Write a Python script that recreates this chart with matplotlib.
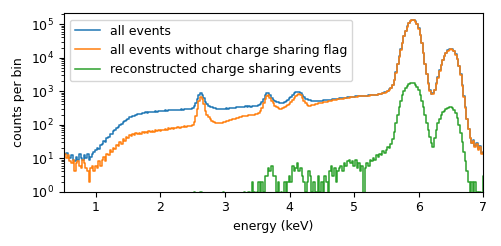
import numpy as np
import matplotlib
matplotlib.use("Agg")
import matplotlib.pyplot as plt

# bin centres (keV), 0.025 keV wide bins, 0.5 ... 7.0
energy_centres = np.round(np.arange(0.5, 7.0001, 0.025), 4)

all_events = [
    # 0.500 - 0.975
    15, 13, 14, 11, 10, 12, 9, 8, 11, 9, 13, 10, 9, 12, 10, 13, 9, 11, 13, 15,
    # 1.000 - 1.475
    17, 20, 19, 25, 26, 32, 31, 40, 42, 52, 54, 65, 68, 82, 85, 100, 106, 122, 125, 142,
    # 1.500 - 1.975
    148, 165, 166, 185, 186, 200, 202, 214, 211, 225, 220, 232, 228, 238, 236, 244, 240, 250, 246, 252,
    # 2.000 - 2.475
    255, 262, 256, 266, 260, 268, 264, 273, 268, 278, 272, 281, 276, 285, 280, 288, 283, 290, 292, 298,
    # 2.500 - 2.975
    320, 360, 450, 600, 780, 860, 780, 620, 480, 410, 370, 345, 330, 315, 305, 300, 295, 295, 298, 300,
    # 3.000 - 3.475
    298, 305, 300, 312, 306, 322, 318, 335, 328, 345, 336, 345, 338, 350, 342, 354, 347, 358, 352, 360,
    # 3.500 - 3.975
    360, 375, 410, 480, 600, 760, 880, 870, 760, 640, 560, 510, 480, 460, 445, 440, 445, 460, 490, 530,
    # 4.000 - 4.475
    610, 680, 760, 850, 920, 960, 950, 880, 760, 660, 600, 565, 540, 525, 515, 510, 508, 510, 512, 515,
    # 4.500 - 4.975
    520, 525, 530, 535, 545, 550, 560, 570, 580, 590, 600, 607, 615, 622, 630, 640, 650, 660, 670, 680,
    # 5.000 - 5.475
    690, 695, 700, 705, 710, 715, 720, 728, 735, 742, 750, 760, 770, 780, 790, 805, 820, 840, 870, 910,
    # 5.500 - 5.975
    970, 1040, 1120, 1220, 1500, 2200, 3600, 6500, 11000, 17500, 28000, 44000, 63000, 85000, 108000,
    124000, 133000, 130000, 120000, 100000,
    # 6.000 - 6.475
    75000, 48000, 28000, 14000, 6500, 3200, 1700, 1050, 820, 850, 1100, 1700, 2600, 4200, 6200, 8600,
    11500, 14000, 16500, 17800,
    # 6.500 - 6.975
    18300, 17500, 15500, 12500, 9000, 5800, 3200, 1500, 700, 330, 150, 75, 41, 29, 34, 23, 28, 19, 23, 14,
    # 7.000
    15,
]

no_cs_flag = [
    # 0.500 - 0.975
    1, 13, 10, 12, 8, 7, 9, 4, 7, 8, 6, 5, 9, 7, 5, 4, 2, 5, 6, 4,
    # 1.000 - 1.475
    6, 5, 8, 6, 9, 11, 8, 13, 12, 17, 15, 20, 19, 25, 23, 30, 27, 36, 33, 43,
    # 1.500 - 1.975
    41, 49, 45, 53, 48, 56, 51, 58, 53, 60, 55, 61, 58, 63, 60, 65, 62, 67, 64, 68,
    # 2.000 - 2.475
    66, 71, 68, 74, 71, 77, 73, 79, 75, 81, 78, 84, 80, 86, 83, 88, 85, 90, 89, 94,
    # 2.500 - 2.975
    100, 120, 180, 300, 520, 680, 600, 400, 260, 200, 165, 145, 132, 122, 115, 110, 108, 110, 115, 120,
    # 3.000 - 3.475
    122, 130, 128, 138, 136, 147, 145, 158, 155, 170, 166, 180, 176, 186, 182, 192, 188, 198, 195, 204,
    # 3.500 - 3.975
    210, 225, 255, 320, 430, 580, 720, 740, 640, 520, 430, 370, 330, 305, 292, 295, 310, 335, 360, 385,
    # 4.000 - 4.475
    415, 470, 540, 620, 700, 780, 800, 740, 620, 500, 430, 385, 365, 370, 380, 392, 405, 418, 430, 442,
    # 4.500 - 4.975
    455, 462, 470, 480, 490, 505, 520, 532, 545, 555, 565, 575, 585, 597, 610, 620, 630, 643, 655, 665,
    # 5.000 - 5.475
    675, 682, 690, 695, 700, 706, 712, 720, 727, 734, 742, 752, 762, 772, 782, 797, 812, 832, 860, 900,
    # 5.500 - 5.975
    960, 1030, 1100, 1200, 1470, 2150, 3500, 6300, 10700, 17000, 27300, 43000, 61500, 83000, 106000,
    122000, 131000, 128000, 118000, 98000,
    # 6.000 - 6.475
    73500, 47000, 27400, 13700, 6350, 3130, 1660, 1020, 800, 830, 1070, 1660, 2540, 4100, 6050, 8400,
    11200, 13700, 16100, 17400,
    # 6.500 - 6.975
    17900, 17100, 15200, 12200, 8800, 5700, 3120, 1460, 680, 320, 145, 72, 40, 28, 33, 22, 27, 18, 22, 13,
    # 7.000
    15,
]

cs_reconstructed = [
    # 0.500 - 2.475
    0, 0, 0, 0, 0, 0, 0, 0, 0, 0, 0, 0, 0, 0, 0, 0, 0, 0, 0, 0,
    0, 0, 0, 0, 0, 0, 0, 0, 0, 0, 0, 0, 0, 0, 0, 0, 0, 0, 0, 0,
    0, 0, 0, 0, 0, 0, 0, 0, 0, 0, 0, 0, 0, 0, 0, 0, 0, 0, 0, 0,
    0, 0, 0, 0, 0, 0, 0, 0, 0, 0, 0, 0, 0, 0, 0, 0, 0, 0, 0, 0,
    # 2.500 - 2.975
    0, 1, 0, 0, 0, 1, 0, 0, 0, 0, 0, 0, 0, 0, 0, 0, 0, 0, 0, 1,
    # 3.000 - 3.475
    0, 0, 0, 0, 0, 0, 0, 0, 0, 0, 0, 0, 1, 0, 0, 1, 0, 2, 1, 0,
    # 3.500 - 3.975
    1, 2, 0, 2, 1, 3, 3, 5, 4, 6, 3, 3, 1, 2, 0, 1, 0, 2, 1, 2,
    # 4.000 - 4.475
    3, 2, 6, 4, 5, 7, 4, 5, 3, 2, 1, 2, 4, 3, 1, 2, 0, 1, 3, 1,
    # 4.500 - 4.975
    2, 1, 3, 2, 1, 4, 6, 3, 5, 2, 4, 5, 6, 4, 7, 6, 8, 9, 7, 8,
    # 5.000 - 5.475
    6, 9, 5, 7, 4, 6, 0, 5, 7, 6, 9, 8, 10, 9, 12, 11, 13, 12, 16, 14,
    # 5.500 - 5.975
    18, 22, 20, 26, 38, 60, 110, 200, 340, 520, 760, 1000, 1230, 1420, 1620, 1720, 1780, 1720, 1550, 1350,
    # 6.000 - 6.475
    1050, 760, 520, 330, 200, 115, 68, 42, 28, 22, 40, 70, 110, 150, 195, 230, 260, 290, 310, 325,
    # 6.500 - 6.975
    330, 315, 280, 225, 160, 100, 55, 30, 15, 8, 4, 2, 1, 2, 0, 2, 1, 0, 1, 0,
    # 7.000
    3,
]

series_labels = [
    "all events",
    "all events without charge sharing flag",
    "reconstructed charge sharing events",
]

width = 0.025
edges = np.append(energy_centres - width / 2, energy_centres[-1] + width / 2)

plt.rcParams["font.family"] = ["DejaVu Sans"]
plt.rcParams["font.size"] = 9

fig = plt.figure(figsize=(5.01, 2.46), dpi=100)
ax = fig.add_axes([0.127, 0.221, 0.8377, 0.725])

colors = ["#1f77b4", "#ff7f0e", "#2ca02c"]
for vals, lab, col in zip([all_events, no_cs_flag, cs_reconstructed], series_labels, colors):
    v = np.asarray(vals, dtype=float)
    ax.step(edges, np.append(v, v[-1]), where="post", color=col, lw=1.1, label=lab)

ax.set_yscale("log")
ax.set_xlim(0.5, 7.0)
ax.set_ylim(1, 2.1e5)
ax.set_xticks([1, 2, 3, 4, 5, 6, 7])
ax.set_xlabel("energy (keV)")
ax.set_ylabel("counts per bin")
ax.legend(loc="upper left", fontsize=9)

fig.savefig("out.png", dpi=100)
